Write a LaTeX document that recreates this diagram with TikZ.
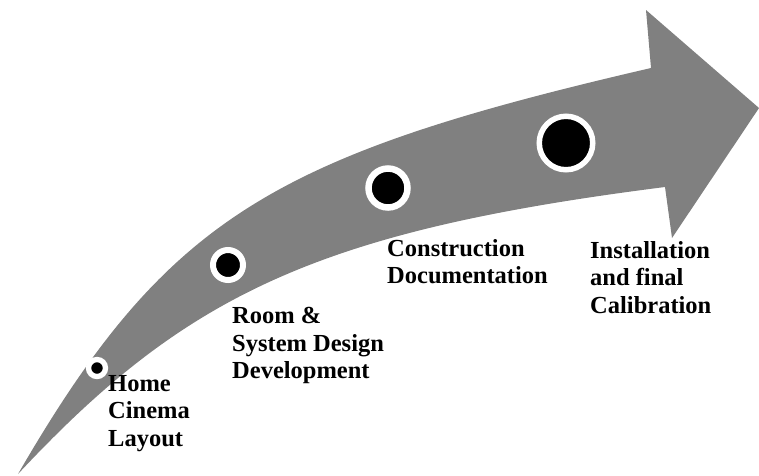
\documentclass[tikz,border=0pt]{standalone}
\usepackage{fontspec}
\setmainfont{Liberation Serif}
\begin{document}
\begin{tikzpicture}[x=1pt,y=-1pt,
  dot/.style={circle,fill=black,draw=white,inner sep=0pt},
  lbl/.style={anchor=north west,inner sep=0pt,align=left,font=\fontsize{24.5}{27.5}\selectfont\bfseries}]
\useasboundingbox (0,0) rectangle (759,475);
% curved arrow
\fill[gray] (18,474) .. controls (167,217) and (273,155.5) .. (651,68)
  -- (646,10) -- (759,108) -- (672,238) -- (665,187)
  .. controls (318.5,231) and (186,294) .. (18,474) -- cycle;
% milestones
\node[dot,minimum size=17pt,line width=5.3pt] (c1) at (97,368) {};
\node[dot,minimum size=30pt,line width=6pt] (c2) at (228,265) {};
\node[dot,minimum size=39pt,line width=6.5pt] (c3) at (388,188) {};
\node[dot,minimum size=53.5pt,line width=5.5pt] (c4) at (566,143) {};
% labels
\node[lbl] (t1) at (108,375) {Home\\Cinema\\Layout};
\node[lbl] (t2) at (232,307) {Room \&\\System Design\\Development};
\node[lbl] (t3) at (387,239) {Construction\\Documentation};
\node[lbl] (t4) at (590,241) {Installation\\and final\\Calibration};
\end{tikzpicture}
\end{document}
